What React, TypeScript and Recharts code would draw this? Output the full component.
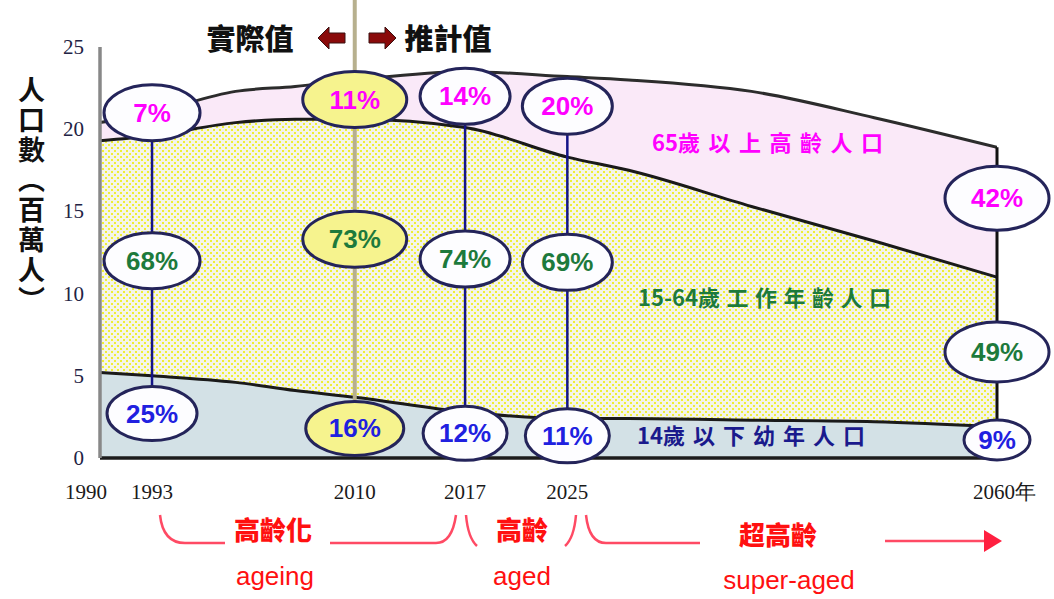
import React from 'react';
import { ComposedChart, Area, Line, XAxis, YAxis, ReferenceLine, ReferenceDot } from 'recharts';

// ---------- data ----------
const YEARS = [1990, 1993, 2000, 2005, 2010, 2017, 2025, 2030, 2040, 2050, 2060];
const YOUNG = [5.2, 5.0, 4.6, 4.1, 3.7, 2.8, 2.4, 2.4, 2.3, 2.2, 1.9];
const WORKING = [14.1, 14.6, 15.8, 16.5, 16.9, 17.3, 15.9, 15.1, 13.0, 11.0, 9.1];
const ELDERLY = [1.1, 1.4, 1.9, 2.0, 2.4, 3.4, 4.9, 5.5, 7.0, 7.5, 7.9];

const X_TICKS = [1990, 1993, 2010, 2017, 2025, 2060];
const X_TICK_LABELS = ['1990', '1993', '2010', '2017', '2025', '2060年'];
const Y_TICKS = [0, 5, 10, 15, 20, 25];

const MARK_YEARS = [1993, 2010, 2017, 2025, 2060];
const PCT_ELDERLY = ['7%', '11%', '14%', '20%', '42%'];
const PCT_WORKING = ['68%', '73%', '74%', '69%', '49%'];
const PCT_YOUNG = ['25%', '16%', '12%', '11%', '9%'];

// ---------- layout (not data) ----------
// the original's x axis is drawn unevenly; fraction of plot width at each tick year
const X_BREAK_FRAC = [0, 0.058, 0.284, 0.407, 0.521, 1];
const LABEL_Y_ELDERLY = [21.0, 21.8, 22.0, 21.4, 15.8];
const LABEL_Y_WORKING = [12.0, 13.3, 12.1, 11.9, 6.45];
const LABEL_Y_YOUNG = [2.7, 1.8, 1.5, 1.35, 1.1];
const ELL_RX = [48, 52, 45, 45, 52];
const HIGHLIGHT_YEAR = 2010;

const data = YEARS.map((year, i) => ({
  year,
  young: YOUNG[i],
  working: WORKING[i],
  elderly: ELDERLY[i],
  // stacked boundaries, used only to draw the outlines on top of the fills
  upTo64: YOUNG[i] + WORKING[i],
  total: YOUNG[i] + WORKING[i] + ELDERLY[i],
}));
const TOTAL_2060 = data[data.length - 1].total;

function makeScale(dom: number[] = [1990, 2060], rng: number[] = [0, 1]): any {
  let d = dom.slice();
  let r = rng.slice();
  const f: any = (v: number) => {
    let i = 0;
    while (i < X_TICKS.length - 2 && v > X_TICKS[i + 1]) i++;
    const t = (v - X_TICKS[i]) / (X_TICKS[i + 1] - X_TICKS[i]);
    const frac = X_BREAK_FRAC[i] + t * (X_BREAK_FRAC[i + 1] - X_BREAK_FRAC[i]);
    return r[0] + frac * (r[1] - r[0]);
  };
  f.domain = (x?: number[]) => {
    if (x === undefined) return d.slice();
    d = x.slice();
    return f;
  };
  f.range = (x?: number[]) => {
    if (x === undefined) return r.slice();
    r = x.slice();
    return f;
  };
  f.copy = () => makeScale(d, r);
  f.ticks = () => X_TICKS.slice();
  f.tickFormat = () => (v: number) => String(v);
  f.invert = (px: number) => {
    const frac = (px - r[0]) / (r[1] - r[0]);
    let i = 0;
    while (i < X_BREAK_FRAC.length - 2 && frac > X_BREAK_FRAC[i + 1]) i++;
    const t = (frac - X_BREAK_FRAC[i]) / (X_BREAK_FRAC[i + 1] - X_BREAK_FRAC[i]);
    return X_TICKS[i] + t * (X_TICKS[i + 1] - X_TICKS[i]);
  };
  f.clamp = () => f;
  f.nice = () => f;
  return f;
}
const xScale = makeScale();

const XTick = (props: any) => {
  const { x, y, payload } = props;
  const idx = X_TICKS.indexOf(payload.value);
  const label = idx >= 0 ? X_TICK_LABELS[idx] : String(payload.value);
  const isLast = idx === X_TICKS.length - 1;
  const isFirst = idx === 0;
  return (
    <text
      x={isLast ? x - 24 : isFirst ? x - 14 : x}
      y={y + 41}
      textAnchor={isLast ? 'start' : 'middle'}
      fontFamily="'Liberation Serif', 'DejaVu Serif', serif"
      fontSize={21}
      fill="#1a1a1a"
    >
      {label}
    </text>
  );
};

const YTick = (props: any) => {
  const { y, payload } = props;
  return (
    <text x={84} y={y + 7} textAnchor="end" fontFamily="'Liberation Serif', serif" fontSize={21} fill="#222244">
      {payload.value}
    </text>
  );
};

const Bubble = (color: string, text: string, rx: number, ry: number, yellow: boolean) => (props: any) => {
  const { cx, cy } = props;
  if (cx == null || cy == null) return <g />;
  return (
    <g>
      <ellipse cx={cx} cy={cy} rx={rx} ry={ry} fill={yellow ? '#f6f38e' : '#fdfdff'} stroke="#24245a" strokeWidth={3} />
      <text
        x={cx}
        y={cy + 9}
        textAnchor="middle"
        fontFamily="'Liberation Sans', Arial, sans-serif"
        fontWeight="bold"
        fontSize={26}
        fill={color}
      >
        {text}
      </text>
    </g>
  );
};

const cjk = "'Noto Sans CJK TC', 'Noto Sans CJK SC', sans-serif";

export default function App() {
  return (
    <div style={{ position: 'absolute', left: 0, top: 0, width: 1054, height: 599, background: '#fff' }}>
      <ComposedChart width={1054} height={599} data={data} margin={{ top: 47, right: 57, bottom: 111, left: 60 }}>
        <defs>
          <pattern id="dots" width="6" height="6" patternUnits="userSpaceOnUse">
            <rect width="6" height="6" fill="#f4f4ea" />
            <rect x="0" y="0" width="2" height="2" fill="#efee36" />
            <rect x="3" y="3" width="2" height="2" fill="#efee36" />
          </pattern>
        </defs>
        <XAxis
          dataKey="year"
          type="number"
          domain={[1990, 2060]}
          ticks={X_TICKS}
          scale={xScale}
          height={30}
          tickSize={0}
          tickMargin={0}
          tickLine={false}
          axisLine={{ stroke: '#1c1c1c', strokeWidth: 3.5 }}
          tick={<XTick />}
          allowDataOverflow
        />
        <YAxis
          type="number"
          domain={[0, 25]}
          ticks={Y_TICKS}
          width={40}
          tickLine={false}
          axisLine={{ stroke: '#888', strokeWidth: 3.5 }}
          tick={<YTick />}
        />
        <Area type="monotone" dataKey="young" stackId="pop" fill="#d3e1e6" fillOpacity={1} stroke="none" isAnimationActive={false} />
        <Area type="monotone" dataKey="working" stackId="pop" fill="url(#dots)" fillOpacity={1} stroke="none" isAnimationActive={false} />
        <Area type="monotone" dataKey="elderly" stackId="pop" fill="#fae9f8" fillOpacity={1} stroke="none" isAnimationActive={false} />
        <Line type="monotone" dataKey="young" stroke="#1a1a1a" strokeWidth={3} dot={false} isAnimationActive={false} />
        <Line type="monotone" dataKey="upTo64" stroke="#1a1a1a" strokeWidth={3} dot={false} isAnimationActive={false} />
        <Line type="monotone" dataKey="total" stroke="#2c2c2c" strokeWidth={3} dot={false} isAnimationActive={false} />
        {/* divider between actual and projected values */}
        <ReferenceLine
          segment={[{ x: HIGHLIGHT_YEAR, y: LABEL_Y_YOUNG[1] }, { x: HIGHLIGHT_YEAR, y: 28 }]}
          stroke="#b7b08e"
          strokeWidth={4}
          ifOverflow="visible"
        />
        <ReferenceLine
          segment={[{ x: MARK_YEARS[0], y: LABEL_Y_YOUNG[0] }, { x: MARK_YEARS[0], y: LABEL_Y_ELDERLY[0] }]}
          stroke="#141488"
          strokeWidth={2.5}
          ifOverflow="visible"
        />
        <ReferenceLine
          segment={[{ x: MARK_YEARS[2], y: 0 }, { x: MARK_YEARS[2], y: LABEL_Y_ELDERLY[2] }]}
          stroke="#141488"
          strokeWidth={2.5}
          ifOverflow="visible"
        />
        <ReferenceLine
          segment={[{ x: MARK_YEARS[3], y: 0 }, { x: MARK_YEARS[3], y: LABEL_Y_ELDERLY[3] }]}
          stroke="#141488"
          strokeWidth={2.5}
          ifOverflow="visible"
        />
        <ReferenceLine
          segment={[{ x: MARK_YEARS[4], y: 0 }, { x: MARK_YEARS[4], y: TOTAL_2060 }]}
          stroke="#111"
          strokeWidth={3}
          ifOverflow="visible"
        />
        {MARK_YEARS.map((yr, i) => (
          <ReferenceDot
            key={'e' + yr}
            x={yr}
            y={LABEL_Y_ELDERLY[i]}
            r={0}
            ifOverflow="visible"
            shape={Bubble('#ff00ff', PCT_ELDERLY[i], ELL_RX[i], i === 4 ? 32 : 28, yr === HIGHLIGHT_YEAR)}
          />
        ))}
        {MARK_YEARS.map((yr, i) => (
          <ReferenceDot
            key={'w' + yr}
            x={yr}
            y={LABEL_Y_WORKING[i]}
            r={0}
            ifOverflow="visible"
            shape={Bubble('#1d7a3c', PCT_WORKING[i], ELL_RX[i], i === 4 ? 30 : 28, yr === HIGHLIGHT_YEAR)}
          />
        ))}
        {MARK_YEARS.map((yr, i) => (
          <ReferenceDot
            key={'y' + yr}
            x={yr}
            y={LABEL_Y_YOUNG[i]}
            r={0}
            ifOverflow="visible"
            shape={Bubble('#2020e0', PCT_YOUNG[i], i === 4 ? 33 : ELL_RX[i] - 3, i === 4 ? 20 : 27, yr === HIGHLIGHT_YEAR)}
          />
        ))}
      </ComposedChart>

      {/* vertical axis title */}
      <div
        style={{
          position: 'absolute',
          left: 18,
          top: 76,
          writingMode: 'vertical-rl',
          fontFamily: cjk,
          fontWeight: 700,
          fontSize: 27,
          lineHeight: 1,
          letterSpacing: 3,
          color: '#111',
        }}
      >
        人口數（百萬人）
      </div>

      <svg width={1054} height={599} style={{ position: 'absolute', left: 0, top: 0, pointerEvents: 'none' }}>
        {/* header */}
        <text x={250} y={50} textAnchor="middle" fontFamily={cjk} fontWeight="900" fontSize={29} fill="#111">
          實際值
        </text>
        <text x={448} y={50} textAnchor="middle" fontFamily={cjk} fontWeight="900" fontSize={29} fill="#111">
          推計值
        </text>
        <polygon points="318,38 329,27 329,33 345,33 345,43 329,43 329,49" fill="#8a0a0a" stroke="#3a1010" strokeWidth={1} />
        <polygon points="396,38 385,27 385,33 369,33 369,43 385,43 385,49" fill="#8a0a0a" stroke="#3a1010" strokeWidth={1} />

        {/* series names */}
        <text x={652} y={151} fontFamily={cjk} fontWeight="bold" fontSize={22} fill="#ff00ff">
          <tspan>65</tspan>
          <tspan letterSpacing={8.5}>歲以上高齡人口</tspan>
        </text>
        <text x={638} y={306} fontFamily={cjk} fontWeight="bold" fontSize={22} fill="#1d7a3c">
          <tspan>15-64</tspan>
          <tspan letterSpacing={6.5}>歲工作年齡人口</tspan>
        </text>
        <text x={637} y={444} fontFamily={cjk} fontWeight="bold" fontSize={22} fill="#1a1a8c">
          <tspan>14</tspan>
          <tspan letterSpacing={8}>歲以下幼年人口</tspan>
        </text>

        {/* stage brackets */}
        <g fill="none" stroke="#ff4a64" strokeWidth={2.5}>
          <path d="M160,515 Q163,543 185,543 L225,543" />
          <path d="M330,543 L436,543 Q452,543 456,515" />
          <path d="M466,515 Q468,538 477,546" />
          <path d="M565,546 Q574,538 576,515" />
          <path d="M586,515 Q589,543 606,543 L700,543" />
          <path d="M885,541 L992,541" />
        </g>
        <polygon points="984,530 1002,541 984,552" fill="#ff2040" />
        <g fontFamily={cjk} fontWeight="900" fontSize={26} fill="#ff1010" textAnchor="middle">
          <text x={273} y={540}>高齡化</text>
          <text x={522} y={540}>高齡</text>
          <text x={778} y={545}>超高齡</text>
        </g>
        <g fontFamily="'Liberation Sans', Arial, sans-serif" fontSize={26} fill="#ff1010" textAnchor="middle">
          <text x={275} y={585}>ageing</text>
          <text x={522} y={585}>aged</text>
          <text x={789} y={589}>super-aged</text>
        </g>
      </svg>
    </div>
  );
}
